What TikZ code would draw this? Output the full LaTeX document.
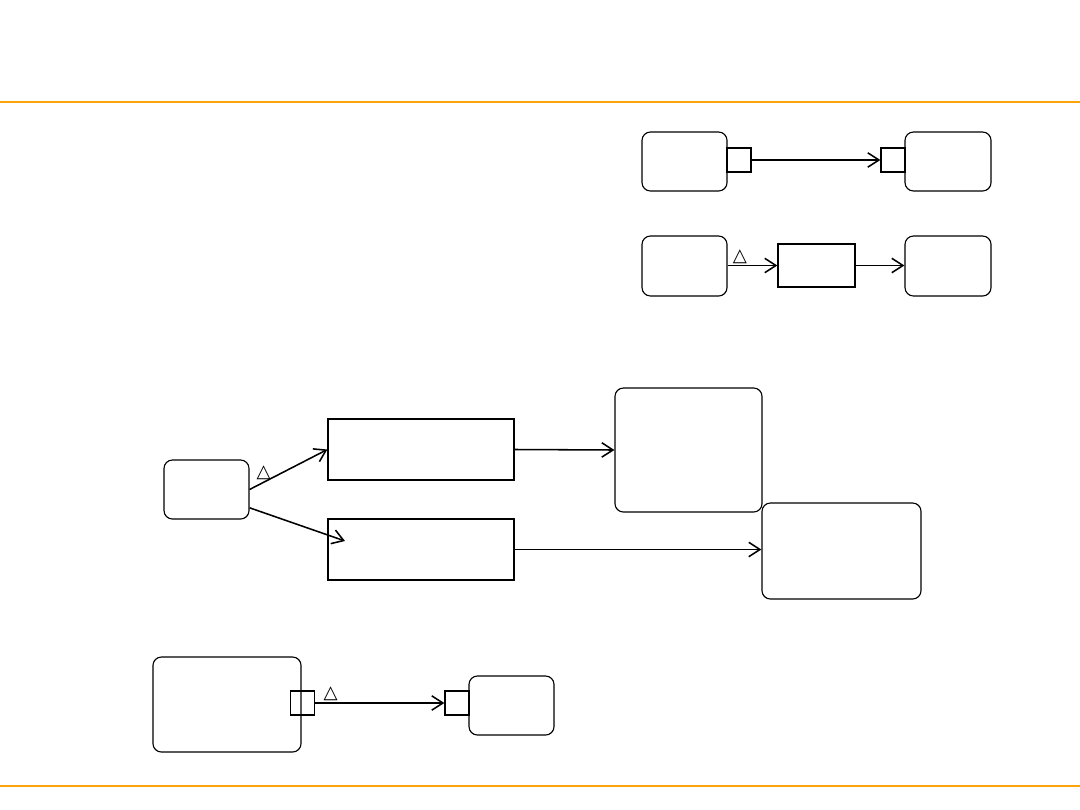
\documentclass[tikz,border=0pt]{standalone}
\usepackage{fontspec}
\usepackage{xcolor}
\usetikzlibrary{positioning,arrows.meta}
\newfontfamily\symfont{DejaVu Sans}
\definecolor{rule}{RGB}{250, 165, 10}

\begin{document}
\begin{tikzpicture}[x=0.025cm, y=-0.025cm,
  state/.style = {rectangle, rounded corners=6pt, draw, line width=0.8pt,
                  inner sep=0pt, minimum width=2.125cm, minimum height=1.475cm},
  act/.style   = {rectangle, draw, line width=0.9pt, inner sep=0pt},
  port/.style  = {rectangle, draw, fill=white, line width=0.9pt, inner sep=0pt,
                  minimum size=0.6cm},
  arrow/.style = {-{Straight Barb[length=2.8mm, width=3.6mm, line width=1.1pt]}, line width=1.1pt},
  thin/.style  = {-{Straight Barb[length=2.8mm, width=3.6mm, line width=1.1pt]}, line width=0.7pt},
  tri/.style   = {font=\symfont\fontsize{13}{15}\selectfont, inner sep=1pt}
]
  \useasboundingbox (0,0) rectangle (1080,810);

  % ---- Header and footer rules ----
  \draw[rule, line width=1.3pt] (0,102) -- (1080,102);
  \draw[rule, line width=1.3pt] (0,786) -- (1080,786);

  % ---- Row 1: ports ----
  \node[state] at (684.5,161.5) (src1) {};
  \node[state, minimum width=2.15cm] at (948,161.5) (dst1) {};
  \node[port] at (739,160) (out1) {};
  \node[port] at (893,160) (in1) {};

  % ---- Row 2: via action ----
  \node[state, minimum height=1.5cm] at (684.5,266) (src2) {};
  \node[act, minimum width=1.925cm, minimum height=1.075cm] at (816.5,265.5) (act2) {};
  \node[state, minimum width=2.15cm, minimum height=1.5cm] at (948,266) (dst2) {};

  % ---- Fork ----
  \node[state] at (206.5,489.5) (fork) {};
  \node[act, minimum width=4.65cm, minimum height=1.525cm] at (421,449.5) (upper) {};
  \node[act, minimum width=4.65cm, minimum height=1.525cm] at (421,549.5) (lower) {};
  \node[state, minimum width=3.675cm, minimum height=3.1cm] at (688.5,450) (big1) {};
  \node[state, minimum width=3.975cm, minimum height=2.4cm] at (841.5,551) (big2) {};
  \coordinate (lowerin) at (345,541);

  % ---- Bottom row ----
  \node[state, minimum width=3.7cm, minimum height=2.375cm] at (227,704.5) (outer) {};
  \node[port, fill=none] at (302.5,703) (out3) {};
  \node[state] at (511.5,705.5) (dst3) {};
  \node[port] at (457,703) (in3) {};

  % ---- Arrows ----
  \draw[arrow] (out1) -- (in1);
  \draw[thin]  (src2.east |- act2.west) -- node[pos=0.25, above, tri]{△} (act2.west);
  \draw[thin]  (act2) -- (act2.east -| dst2.west);
  \draw[arrow] (fork.east) -- node[pos=0.18, above, tri]{△} (upper.west);
  \draw[arrow] (fork.-23) -- (lowerin);
  \draw[arrow] (upper.east) -- (big1.west);
  \draw[thin]  (lower.east) -- (lower.east -| big2.west);
  \draw[arrow] (out3) -- node[pos=0.12, above, tri]{△} (in3);
\end{tikzpicture}
\end{document}
